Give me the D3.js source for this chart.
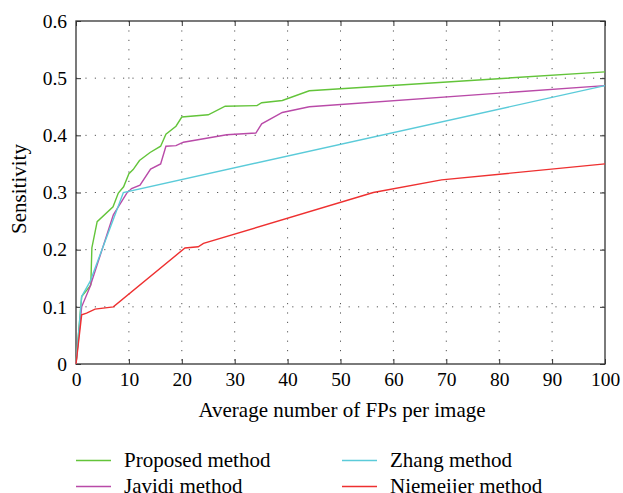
<!DOCTYPE html>
<html><head><meta charset="utf-8">
<script src="https://cdn.jsdelivr.net/npm/d3@7/dist/d3.min.js"></script>
</head><body style="margin:0"><svg id="c" width="623" height="493"></svg>
<script>
const xTicks = [0,10,20,30,40,50,60,70,80,90,100];
const yTicks = [0,0.1,0.2,0.3,0.4,0.5,0.6];
const seriesNames = ["Proposed method","Javidi method","Zhang method","Niemeijer method"];
const seriesColors = ["#63c43a","#b94aa8","#5bcbd9","#ee3030"];
const proposedX = [0,1.07,2.8,3.0,4.0,7.0,8.0,9.0,10.0,10.8,12.0,14.0,16.0,17.0,18.9,20.0,25.0,28.2,34.2,35.1,39.0,44.1,100];
const proposedY = [0,0.118,0.138,0.203,0.249,0.275,0.299,0.31,0.333,0.34,0.356,0.37,0.381,0.402,0.416,0.432,0.436,0.451,0.452,0.457,0.461,0.478,0.511];
const javidiX = [0,1.07,2.65,7.06,9.6,10.5,12.1,14.1,16.0,17.0,18.9,20.3,28.5,34.0,35.1,39.0,44.1,100];
const javidiY = [0,0.1,0.135,0.261,0.299,0.307,0.313,0.341,0.35,0.381,0.382,0.388,0.401,0.404,0.42,0.44,0.45,0.487];
const zhangX = [0,1.07,2.65,8.95,100];
const zhangY = [0,0.118,0.144,0.30,0.487];
const niemeijerX = [0,1.07,2.0,3.6,7.06,20.6,23.1,24.1,56.2,69.1,100];
const niemeijerY = [0,0.086,0.089,0.096,0.100,0.203,0.205,0.211,0.300,0.322,0.350];

const seriesX = [proposedX, javidiX, zhangX, niemeijerX];
const seriesY = [proposedY, javidiY, zhangY, niemeijerY];

const FONT = '"Liberation Serif"';
const svg = d3.select("#c");
const L=76, R=605, T=21, B=364;
const x = d3.scaleLinear().domain([0,100]).range([L,R]);
const y = d3.scaleLinear().domain([0,0.6]).range([B,T]);

// grid
const g = svg.append("g");
g.selectAll(".gx").data(xTicks.slice(1,-1)).enter().append("line")
 .attr("x1",d=>x(d)).attr("x2",d=>x(d)).attr("y1",T).attr("y2",B)
 .attr("stroke","#555").attr("stroke-width",1).attr("stroke-dasharray","1.2,8.2");
g.selectAll(".gy").data(yTicks.slice(1,-1)).enter().append("line")
 .attr("y1",d=>y(d)).attr("y2",d=>y(d)).attr("x1",L).attr("x2",R)
 .attr("stroke","#555").attr("stroke-width",1).attr("stroke-dasharray","1.2,8.2");

// axes
const xa = svg.append("g").attr("transform",`translate(0,${B})`)
 .call(d3.axisBottom(x).tickValues(xTicks).tickSize(-5).tickPadding(8).tickFormat(d3.format("d")));
const xt = svg.append("g").attr("transform",`translate(0,${T})`)
 .call(d3.axisTop(x).tickValues(xTicks).tickSize(-5).tickFormat(""));
const ya = svg.append("g").attr("transform",`translate(${L},0)`)
 .call(d3.axisLeft(y).tickValues(yTicks).tickSize(-5).tickPadding(9).tickFormat(d=>d===0?"0":d3.format(".1f")(d)));
const yr = svg.append("g").attr("transform",`translate(${R},0)`)
 .call(d3.axisRight(y).tickValues(yTicks).tickSize(-5).tickFormat(""));
[xa,xt,ya,yr].forEach(a=>{a.select(".domain").remove();a.selectAll("line").attr("stroke","#333");a.attr("font-family",null).attr("font-size",null);});
[xa,ya].forEach(a=>a.selectAll("text").style("font-family",FONT).style("font-size","19.5px"));
svg.append("rect").attr("x",L).attr("y",T).attr("width",R-L).attr("height",B-T)
 .attr("fill","none").attr("stroke","#333").attr("stroke-width",1.3);

// lines
const line = d3.line().x(d=>x(d[0])).y(d=>y(d[1]));
seriesNames.forEach((n,i)=>{
  const pts = seriesX[i].map((v,j)=>[v,seriesY[i][j]]);
  svg.append("path").datum(pts).attr("d",line).attr("fill","none")
   .attr("stroke",seriesColors[i]).attr("stroke-width",1.4);
});

// labels
svg.append("text").attr("x",342).attr("y",417).attr("text-anchor","middle")
 .style("font-family",FONT).style("font-size","21px").text("Average number of FPs per image");
svg.append("text").attr("transform","translate(26,189) rotate(-90)").attr("text-anchor","middle")
 .style("font-family",FONT).style("font-size","21px").text("Sensitivity");

// legend
const legPos = [[76,460.5],[76,486.5],[342,460.5],[342,486.5]];
seriesNames.forEach((n,i)=>{
  const [lx,ly]=legPos[i];
  svg.append("line").attr("x1",lx).attr("x2",lx+35).attr("y1",ly).attr("y2",ly)
   .attr("stroke",seriesColors[i]).attr("stroke-width",1.4);
  svg.append("text").attr("x",lx+48).attr("y",ly+6)
   .style("font-family",FONT).style("font-size","21px").text(n);
});
</script></body></html>
